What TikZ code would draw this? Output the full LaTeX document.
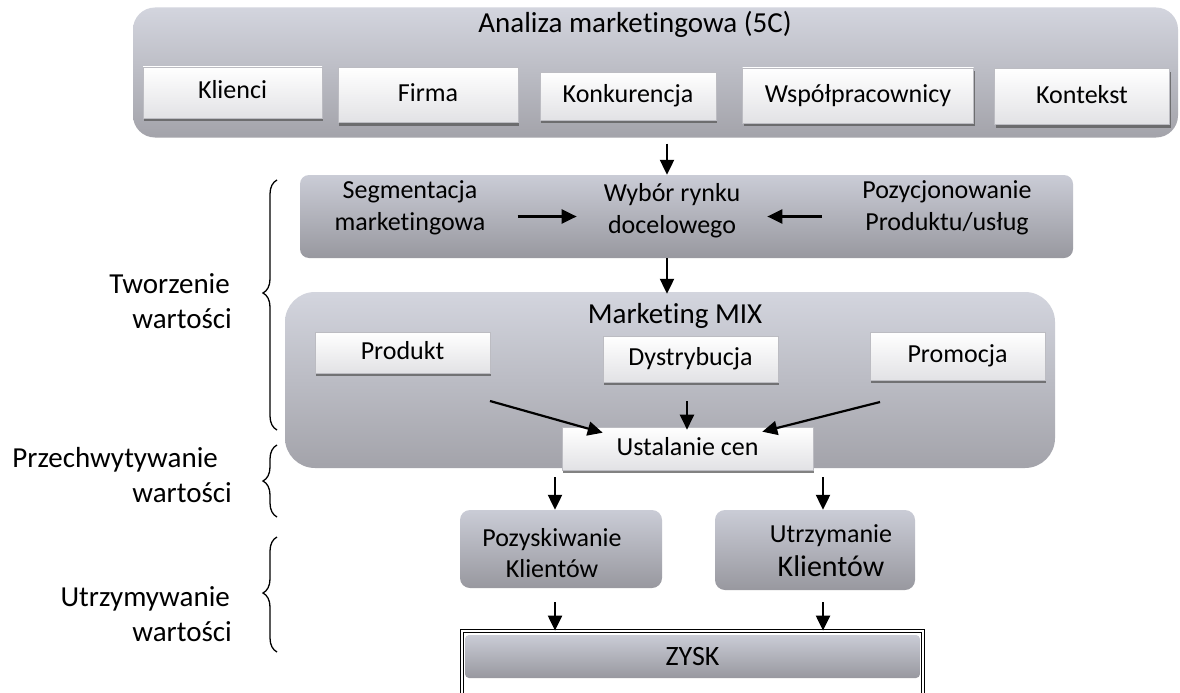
\documentclass[tikz,border=0pt]{standalone}
\usepackage{fontspec}
\setmainfont{Carlito}[Ligatures=NoCommon]
\usetikzlibrary{arrows.meta,shadows,decorations.pathreplacing}

\definecolor{panelTop}{RGB}{211,213,222}
\definecolor{panelBot}{RGB}{163,163,170}
\definecolor{boxTop}{RGB}{202,204,214}
\definecolor{boxBot}{RGB}{152,152,159}
\definecolor{btnBot}{RGB}{226,226,229}
\definecolor{btnEdge}{RGB}{188,188,194}

\begin{document}
\begin{tikzpicture}[x=1pt,y=-1pt,
  txt/.style={font=\fontsize{26}{32}\selectfont, inner sep=0pt, align=center},
  big/.style={font=\fontsize{29}{35}\selectfont, inner sep=0pt},
  panel/.style={draw=none, top color=panelTop, bottom color=panelBot, inner sep=0pt},
  minibox/.style={draw=none, top color=boxTop, bottom color=boxBot, inner sep=0pt},
  button/.style={draw=btnEdge, line width=0.6pt, top color=white, bottom color=btnBot,
     inner sep=0pt, font=\fontsize{26}{32}\selectfont, text height=17pt, text depth=4pt,
     drop shadow={shadow xshift=1pt, shadow yshift=-3pt, fill=black!65, opacity=0.75}},
  arr/.style={line width=2.2pt, -{Triangle[length=15pt,width=14pt]}},
  brace/.style={decorate, decoration={brace, amplitude=14pt}, line width=1.3pt},
  lbl/.style={font=\fontsize{29}{35}\selectfont, inner sep=0pt, align=right, anchor=east}
]
\useasboundingbox (0,0) rectangle (1180,693);
\fill[white] (0,0) rectangle (1180,693);

% column positions of the vertical connectors
\coordinate (colM) at (667,0);
\coordinate (colL) at (555,0);
\coordinate (colR) at (823,0);

% ---- 5C analysis panel
\node[panel, rounded corners=22pt, minimum width=1045pt, minimum height=130pt] (analiza) at (655.5,72.5) {};
\node[big, anchor=base] (analizaT) at (635,33) {Analiza marketingowa (5C)};
\node[button, minimum width=179pt, minimum height=51pt] (klienci) at (232.5,92.5) {Klienci};
\node[button, minimum width=180pt, minimum height=55pt] (firma) at (428,95) {Firma};
\node[button, minimum width=176pt, minimum height=48pt] (konk) at (628,96) {Konkurencja};
\node[button, minimum width=231pt, minimum height=55pt] (wspol) at (858,95.5) {Współpracownicy};
\node[button, minimum width=175pt, minimum height=56pt] (kontekst) at (1082,96.5) {Kontekst};

% ---- segmentation / targeting / positioning
\node[minibox, rounded corners=9pt, minimum width=773pt, minimum height=83pt] (stp) at (686.5,216.5) {};
\node[txt] (segm) at (410,208) {Segmentacja\\marketingowa};
\node[txt] (wybor) at (672,211) {Wybór rynku\\docelowego};
\node[txt] (pozyc) at (947,208) {Pozycjonowanie\\Produktu/usług};

% ---- marketing mix
\node[panel, rounded corners=30pt, minimum width=770pt, minimum height=176pt] (mix) at (670,380) {};
\node[big, anchor=base] (mixT) at (675,323) {Marketing MIX};
\node[button, minimum width=175pt, minimum height=41pt] (produkt) at (402.5,352.5) {Produkt};
\node[button, minimum width=175pt, minimum height=46pt] (dystr) at (690.5,359) {Dystrybucja};
\node[button, minimum width=175pt, minimum height=48pt] (promo) at (957.5,356) {Promocja};
\node[button, minimum width=251pt, minimum height=43pt] (ustal) at (687.5,448.5) {Ustalanie cen};

\coordinate (pA) at (490,401);
\coordinate (dA) at (687,401);
\coordinate (rA) at (880,402);

% ---- customers
\node[minibox, rounded corners=10pt, minimum width=202pt, minimum height=78pt] (pozysk) at (561,549) {};
\node[txt, font=\fontsize{26}{31}\selectfont] (pozyskT) at (552,553.5) {Pozyskiwanie\\Klientów};
\node[minibox, rounded corners=10pt, minimum width=200pt, minimum height=80pt] (utrzym) at (815,550) {};
\node[txt, font=\fontsize{26}{31}\selectfont] (utrzymT) at (831,551) {Utrzymanie\\[3pt]{\fontsize{30}{36}\selectfont Klientów}};

% ---- profit
\node[draw, double, double distance=2pt, line width=0.8pt, minimum width=461pt, minimum height=80pt] (zysk) at (692.5,671) {};
\node[minibox, rounded corners=4pt, minimum width=455pt, minimum height=43pt, font=\fontsize{28}{34}\selectfont] (zyskT) at (692.5,656.5) {ZYSK};

% ---- connectors
\draw[arr, shorten <=6pt] (analiza.south -| colM) -- (stp.north -| colM);
\draw[arr, shorten >=-2pt] (stp.south -| colM) -- (mix.north -| colM);
\draw[arr, shorten <=32pt, shorten >=27pt] (segm.east |- stp.center) -- (wybor.west |- stp.center);
\draw[arr, shorten <=40pt, shorten >=27pt] (pozyc.west |- stp.center) -- (wybor.east |- stp.center);
\draw[arr] (pA) -- ([xshift=41pt,yshift=-6pt]ustal.north west);
\draw[arr, shorten >=-3pt] (dA) -- (ustal.north -| dA);
\draw[arr] (rA) -- ([xshift=-51pt,yshift=-5pt]ustal.north east);
\draw[arr, shorten <=7pt] (ustal.south -| colL) -- (pozysk.north -| colL);
\draw[arr, shorten <=7pt] (ustal.south -| colR) -- (utrzym.north -| colR);
\draw[arr, shorten <=14pt] (pozysk.south -| colL) -- (zysk.north -| colL);
\draw[arr, shorten <=12pt] (utrzym.south -| colR) -- (zysk.north -| colR);

% ---- value braces and labels
\draw[brace, decoration={aspect=0.548}] (277,430) -- (277,180);
\draw[brace] (277,517) -- (277,445);
\draw[brace, decoration={aspect=0.513}] (277,652) -- (277,537);
\node[lbl] (tworz) at (232,301) {Tworzenie\kern2pt\\wartości};
\node[lbl] (przech) at (232,475) {Przechwytywanie\kern14pt\\wartości};
\node[lbl] (utrzw) at (232,614) {Utrzymywanie\kern2pt\\wartości};
\end{tikzpicture}
\end{document}
